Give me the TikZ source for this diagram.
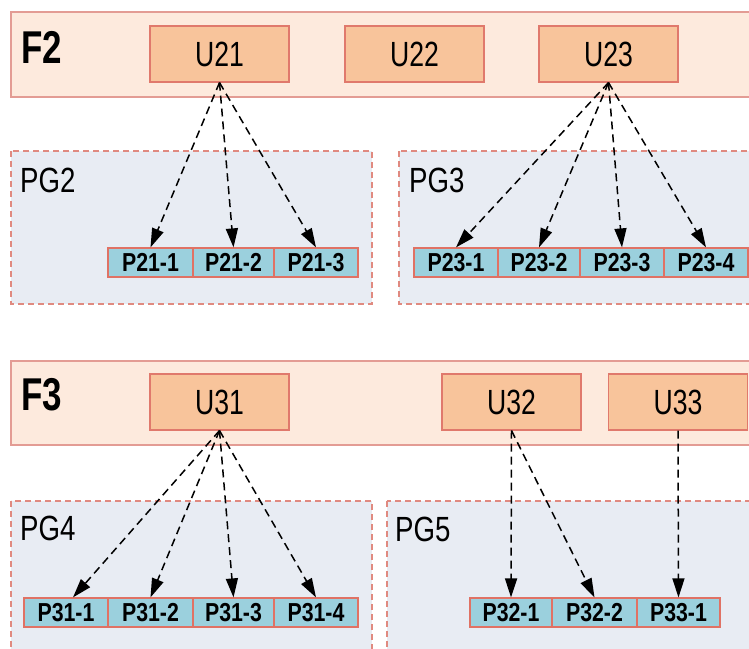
\documentclass[tikz,border=0pt]{standalone}
\usepackage{fontspec}
\setmainfont{Liberation Sans}
\newfontfamily\ufont[FakeStretch=0.76]{Liberation Sans}
\newfontfamily\pgfont[FakeStretch=0.79]{Liberation Sans}
\newfontfamily\ffont[FakeStretch=0.76]{Liberation Sans}
\newfontfamily\cfont[FakeStretch=0.82]{Liberation Sans}
\usetikzlibrary{arrows.meta}
\definecolor{bandfill}{HTML}{FDEADD}
\definecolor{bandline}{HTML}{E39C94}
\definecolor{ufill}{HTML}{F8C49B}
\definecolor{uline}{HTML}{E0796C}
\definecolor{pgfill}{HTML}{E8ECF3}
\definecolor{pgline}{HTML}{E08A80}
\definecolor{cfill}{HTML}{9BD0DD}
\definecolor{cline}{HTML}{E07264}
\begin{document}
\begin{tikzpicture}[x=1pt,y=-1pt,
  band/.style={draw=bandline,fill=bandfill,line width=1.2pt},
  ubox/.style={draw=uline,fill=ufill,line width=1.2pt,minimum width=139pt,minimum height=56pt,inner sep=0pt,font=\ufont\fontsize{35}{37}\selectfont},
  pgbox/.style={draw=pgline,fill=pgfill,line width=1.2pt,dash pattern=on 6pt off 4pt},
  cell/.style={draw=cline,fill=cfill,line width=1.2pt,minimum height=29pt,inner sep=0pt,font=\cfont\bfseries\fontsize{26}{28}\selectfont},
  flabel/.style={anchor=west,inner sep=0pt,font=\ffont\bfseries\fontsize{46}{48}\selectfont},
  pglabel/.style={anchor=west,inner sep=0pt,font=\pgfont\fontsize{35}{37}\selectfont},
  link/.style={draw=black,line width=1.5pt,dash pattern=on 8pt off 5pt,-{Triangle[length=19pt,width=12pt]}}
]
\useasboundingbox (0,0) rectangle (749,648);
\clip (0,0) rectangle (749,648);

% ---- F2 band ----
\path[band] (11,12) rectangle (760,97);
\node[flabel] (F2) at (21,47) {F2};
\node[ubox] (U21) at (219.5,54) {U21};
\node[ubox] (U22) at (414.5,54) {U22};
\node[ubox] (U23) at (608.5,54) {U23};

% ---- PG2 / PG3 ----
\path[pgbox] (11,151) rectangle (372,304);
\path[pgbox] (399,151) rectangle (760,304);
\node[pglabel] (PG2) at (20,180.5) {PG2};
\node[pglabel] (PG3) at (409,180.5) {PG3};

\node[cell,minimum width=85pt] (P211) at (150.5,262.5) {P21-1};
\node[cell,minimum width=81pt] (P212) at (233.5,262.5) {P21-2};
\node[cell,minimum width=84pt] (P213) at (316,262.5) {P21-3};

\node[cell,minimum width=84pt] (P231) at (456,262.5) {P23-1};
\node[cell,minimum width=82pt] (P232) at (539,262.5) {P23-2};
\node[cell,minimum width=84pt] (P233) at (622,262.5) {P23-3};
\node[cell,minimum width=84pt] (P234) at (706,262.5) {P23-4};

% ---- F3 band ----
\path[band] (11,361) rectangle (760,445);
\node[flabel] (F3) at (21,395) {F3};
\node[ubox] (U31) at (219.5,402) {U31};
\node[ubox] (U32) at (511.5,402) {U32};
\node[ubox] (U33) at (678,402) {U33};

% ---- PG4 / PG5 ----
\path[pgbox] (11,501) rectangle (372,660);
\path[pgbox] (387,501) rectangle (760,660);
\node[pglabel] (PG4) at (20,528) {PG4};
\node[pglabel] (PG5) at (395,529) {PG5};

\node[cell,minimum width=84pt] (P311) at (66,612.5) {P31-1};
\node[cell,minimum width=85pt] (P312) at (150.5,612.5) {P31-2};
\node[cell,minimum width=81pt] (P313) at (233.5,612.5) {P31-3};
\node[cell,minimum width=84pt] (P314) at (316,612.5) {P31-4};

\node[cell,minimum width=82pt] (P321) at (511,612.5) {P32-1};
\node[cell,minimum width=85pt] (P322) at (594.5,612.5) {P32-2};
\node[cell,minimum width=83pt] (P331) at (678.5,612.5) {P33-1};

% ---- connectors ----
\draw[link] (U21.south) -- (P211.north);
\draw[link] (U21.south) -- (P212.north);
\draw[link] (U21.south) -- (P213.north);

\draw[link] (U23.south) -- (P231.north);
\draw[link] (U23.south) -- (P232.north);
\draw[link] (U23.south) -- (P233.north);
\draw[link] (U23.south) -- (P234.north);

\draw[link] (U31.south) -- ([xshift=7pt]P311.north);
\draw[link] (U31.south) -- (P312.north);
\draw[link] (U31.south) -- (P313.north);
\draw[link] (U31.south) -- (P314.north);

\draw[link] (U32.south) -- (P321.north);
\draw[link] (U32.south) -- (P322.north);
\draw[link] (U33.south) -- (P331.north);
\end{tikzpicture}
\end{document}
